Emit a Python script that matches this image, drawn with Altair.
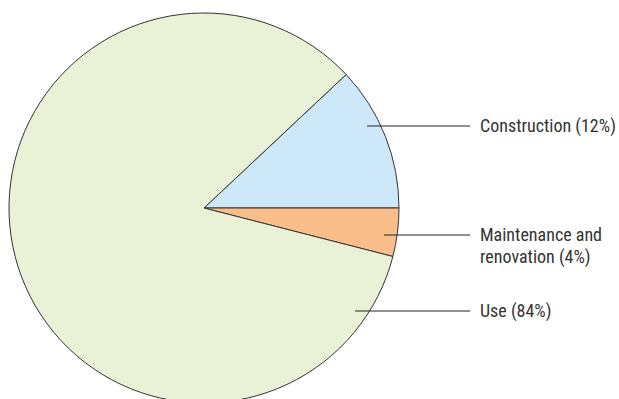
import altair as alt
import pandas as pd
import math

categories = ["Construction", "Maintenance and renovation", "Use"]
shares = [12, 4, 84]
colors = ["#CDE8F9", "#F9BE89", "#E9F2D7"]
label_lines = [["Construction (12%)"], ["Maintenance and", "renovation (4%)"], ["Use (84%)"]]

df = pd.DataFrame({"category": categories, "share": shares, "order": [0, 1, 2]})

start = math.radians(90 - 360 * shares[0] / 100)
CX, CY, R = 204, 208, 195

pie = alt.Chart(df).mark_arc(stroke="#333333", strokeWidth=1, outerRadius=R).encode(
    theta=alt.Theta("share:Q", stack=True, scale=alt.Scale(range=[start, start + 2 * math.pi])),
    color=alt.Color("category:N", scale=alt.Scale(domain=categories, range=colors), legend=None),
    order=alt.Order("order:Q"),
    x=alt.value(CX),
    y=alt.value(CY),
)

# annotation geometry (pixels)
ann = pd.DataFrame({
    "category": categories,
    "x0": [367, 384, 355],
    "x1": [470, 470, 470],
    "y": [126, 235, 311],
    "label": label_lines,
})

xs = alt.Scale(domain=[0, 619], range=[0, 619])
ys = alt.Scale(domain=[0, 399], range=[0, 399])

lines = alt.Chart(ann).mark_rule(color="#222222", strokeWidth=1).encode(
    x=alt.X("x0:Q", scale=xs, axis=None),
    x2="x1:Q",
    y=alt.Y("y:Q", scale=ys, axis=None),
)

texts = alt.Chart(ann).mark_text(
    align="left", baseline="middle", dx=10, dy=1, fontSize=18,
    font="Liberation Sans Narrow, Roboto Condensed, Arial Narrow, sans-serif",
    color="#333333", lineHeight=22,
).encode(
    x=alt.X("x1:Q", scale=xs, axis=None),
    y=alt.Y("y:Q", scale=ys, axis=None),
    text="label",
)

chart = alt.layer(pie, lines, texts).properties(
    width=619, height=399, padding=0, autosize=alt.AutoSizeParams(type="none")
).configure_view(stroke=None).resolve_scale(color="independent")

chart.save("out.html", embed_options={"renderer": "svg", "actions": False})
